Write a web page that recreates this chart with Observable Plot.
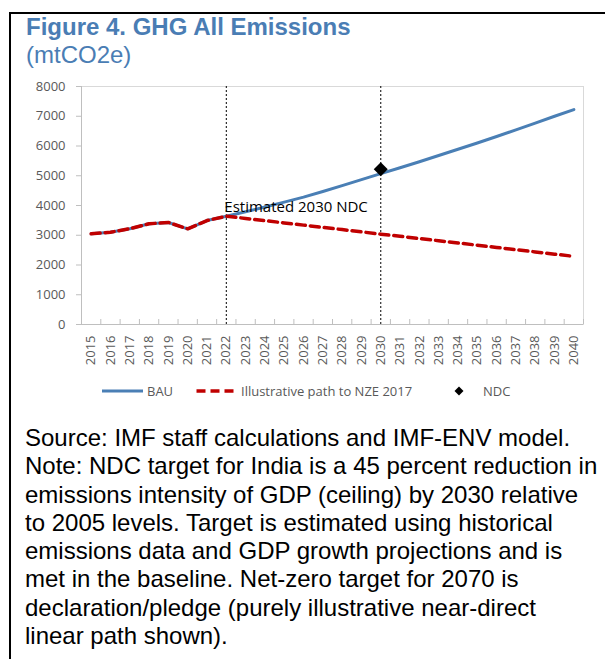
<!DOCTYPE html>
<html>
<head>
<meta charset="utf-8">
<script src="https://cdn.jsdelivr.net/npm/d3@7"></script>
<script src="https://cdn.jsdelivr.net/npm/@observablehq/plot@0.6"></script>
<style>
  html, body { margin: 0; padding: 0; background: #fff; }
  #page { position: relative; width: 605px; height: 659px; overflow: hidden; background: #fff; }
  #frame { position: absolute; left: 9px; top: 12px; width: 596px; height: 660px;
           border-left: 2.5px solid #000; border-top: 2px solid #000; box-sizing: border-box; }
  #title { position: absolute; left: 26px; top: 13px; font-family: "Liberation Sans", Arial, sans-serif;
           font-size: 24px; line-height: 28px; color: #4a7db4; white-space: nowrap; }
  #title b { font-weight: bold; }
  #chart { position: absolute; left: 0; top: 76px; }
  #legend { position: absolute; left: 0; top: 381px; width: 605px; height: 20px;
            font-family: "Open Sans", sans-serif; font-size: 13px; color: #595959; }
  #legend .item { position: absolute; top: 0; height: 20px; line-height: 20px; white-space: nowrap; }
  #note { position: absolute; left: 25px; top: 424px; font-family: "Liberation Sans", Arial, sans-serif;
          font-size: 24px; line-height: 28.3px; color: #000; white-space: nowrap; }
</style>
</head>
<body>
<div id="page">
  <div id="frame"></div>
  <div id="title"><b>Figure 4. GHG All Emissions</b><br>(mtCO2e)</div>
  <div id="chart"></div>
  <div id="legend"></div>
  <div id="note"></div>
</div>
<script>
// ---- Data ----
const years = [2015, 2016, 2017, 2018, 2019, 2020, 2021, 2022, 2023, 2024, 2025, 2026, 2027,
               2028, 2029, 2030, 2031, 2032, 2033, 2034, 2035, 2036, 2037, 2038, 2039, 2040];
const historicalValues = [3050, 3100, 3220, 3385, 3430, 3215, 3495, 3640]; // 2015-2022
const bauProjection = [3790, 3950, 4115, 4280, 4470, 4670, 4870, 5070, 5270, 5470,
                       5680, 5890, 6100, 6320, 6540, 6770, 7000, 7225];   // 2023-2040
const nzeProjection = [3565, 3490, 3415, 3340, 3265, 3190, 3115, 3035, 2965, 2890,
                       2815, 2740, 2665, 2590, 2515, 2440, 2365, 2290];   // 2023-2040
const ndcYear = 2030;
const ndcValue = 5220;
const markerYears = [2022, 2030];
const annotationLabel = "Estimated 2030 NDC";
const annotationAnchor = { year: 2022, value: 3930 };
const yTicks = [0, 1000, 2000, 3000, 4000, 5000, 6000, 7000, 8000];
const seriesNames = ["BAU", "Illustrative path to NZE 2017", "NDC"];
const noteLines = [
  "Source: IMF staff calculations and IMF-ENV model.",
  "Note: NDC target for India is a 45 percent reduction in",
  "emissions intensity of GDP (ceiling) by 2030 relative",
  "to 2005 levels. Target is estimated using historical",
  "emissions data and GDP growth projections and is",
  "met in the baseline. Net-zero target for 2070 is",
  "declaration/pledge (purely illustrative near-direct",
  "linear path shown)."
];

// ---- Build tables ----
const nHist = historicalValues.length;
const bau = years.map((year, i) => ({ year, value: i < nHist ? historicalValues[i] : bauProjection[i - nHist] }));
const nze = years.map((year, i) => ({ year, value: i < nHist ? historicalValues[i] : nzeProjection[i - nHist] }));
const ndc = [{ year: ndcYear, value: ndcValue }];
const annotations = [{ ...annotationAnchor, label: annotationLabel }];
const xDomain = [years[0] - 0.5, years[years.length - 1] + 0.5];
const bounds = [...years.map(y => y - 0.5), years[years.length - 1] + 0.5];

const BLUE = "#4a7fb5", RED = "#c00000", AXIS = "#bfbfbf", TEXT = "#595959";

const chart = Plot.plot({
  width: 605,
  height: 300,
  marginLeft: 81,
  marginRight: 22,
  marginTop: 10,
  marginBottom: 52,
  style: { fontFamily: "Open Sans, sans-serif", fontSize: "13px", background: "transparent", overflow: "visible" },
  x: { type: "linear", domain: xDomain, axis: null },
  y: { domain: [0, 8000], axis: null },
  marks: [
    Plot.frame({ stroke: "#d9d9d9" }),
    Plot.ruleX([xDomain[0]], { stroke: AXIS }),
    Plot.ruleY([0], { stroke: AXIS }),
    Plot.axisY(yTicks, { anchor: "left", tickSize: 5, tickPadding: 11, stroke: AXIS, fill: TEXT, label: null, tickFormat: d => String(d) }),
    Plot.axisX(bounds, { anchor: "bottom", tickSize: 5, dy: -5, stroke: AXIS, tickFormat: () => "", label: null }),
    Plot.axisX(years, { anchor: "bottom", tickSize: 0, tickPadding: 11, tickRotate: -90, fill: TEXT, label: null, tickFormat: d => String(d) }),
    Plot.ruleX(markerYears, { stroke: "#000", strokeWidth: 1, strokeDasharray: "2,2" }),
    Plot.lineY(bau, { x: "year", y: "value", stroke: BLUE, strokeWidth: 3 }),
    Plot.lineY(nze, { x: "year", y: "value", stroke: RED, strokeWidth: 3.5, strokeDasharray: "9,5" }),
    Plot.text(annotations, { x: "year", y: "value", text: "label", textAnchor: "start", dx: -2, fontSize: 15, fill: "#000" }),
    Plot.dot(ndc, { x: "year", y: "value", symbol: "diamond2", r: 6.3, fill: "#000", stroke: "none" })
  ]
});
document.getElementById("chart").appendChild(chart);

// ---- Legend ----
const legend = document.getElementById("legend");
function addItem(left, html) {
  const d = document.createElement("div");
  d.className = "item";
  d.style.left = left + "px";
  d.innerHTML = html;
  legend.appendChild(d);
}
addItem(102, `<svg width="42" height="20" style="vertical-align:top"><line x1="0" x2="41" y1="10" y2="10" stroke="${BLUE}" stroke-width="3"/></svg>`);
addItem(147, seriesNames[0]);
addItem(196, `<svg width="38" height="20" style="vertical-align:top"><line x1="0.5" x2="37.5" y1="10" y2="10" stroke="${RED}" stroke-width="3.5" stroke-dasharray="9,5"/></svg>`);
addItem(241, seriesNames[1]);
addItem(454, `<svg width="10" height="20" style="vertical-align:top"><path d="M5,5.5L9.5,10L5,14.5L0.5,10Z" fill="#000"/></svg>`);
addItem(483, seriesNames[2]);

document.getElementById("note").innerHTML = noteLines.join("<br>");
</script>
</body>
</html>
